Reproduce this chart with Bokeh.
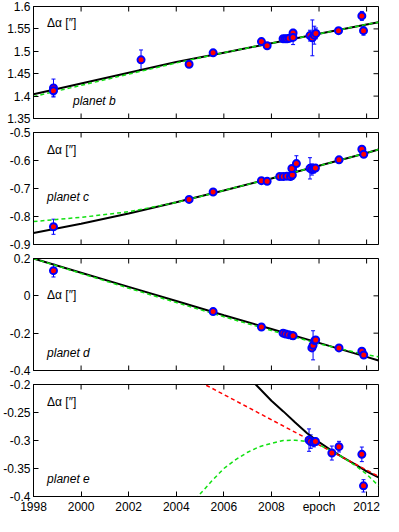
from math import pi
from bokeh.plotting import figure
from bokeh.models import (Range1d, FixedTicker, Label, Whisker,
                          ColumnDataSource, CustomJSTickFormatter, TeeHead)
from bokeh.layouts import column
from bokeh.embed import file_html
from bokeh.resources import INLINE

FONT = "Liberation Sans"

# ---------------- data ----------------
x_ticks = [1998, 2000, 2002, 2004, 2006, 2008, 2010, 2012]
x_label_overrides = {2010: "epoch"}
x_span = (1998, 2012.5)

# planet b
b_years = [1998.84, 1998.84, 2002.52, 2004.54, 2005.55, 2007.58, 2007.82, 2008.49, 2008.58,
           2008.66, 2008.75, 2008.91, 2008.91, 2009.62, 2009.72, 2009.80, 2009.87,
           2010.82, 2011.80, 2011.87]
b_dra = [1.418, 1.412, 1.481, 1.471, 1.4966, 1.5217, 1.5123, 1.528, 1.528,
         1.528, 1.529, 1.541, 1.531, 1.535, 1.530, 1.536, 1.540,
         1.546, 1.579, 1.546]
b_err = [0.02, 0.012, 0.022, 0.003, 0.003, 0.004, 0.004, 0.003, 0.003,
         0.003, 0.003, 0.008, 0.016, 0.012, 0.04, 0.02, 0.012,
         0.004, 0.01, 0.01]
b_model_years = [1998, 2000, 2002, 2004, 2006, 2008, 2010, 2012, 2012.5]
b_model_black = [1.404, 1.428, 1.452, 1.476, 1.497, 1.518, 1.539, 1.560, 1.565]
b_model_green = [1.399, 1.424, 1.449, 1.474, 1.497, 1.518, 1.539, 1.560, 1.565]
b_ticks = [1.35, 1.4, 1.45, 1.5, 1.55, 1.6]

# planet c
c_years = [1998.84, 2004.54, 2005.55, 2007.58, 2007.82, 2008.35, 2008.50, 2008.65, 2008.80,
           2008.88, 2008.86, 2009.05, 2009.62, 2009.70, 2009.78, 2009.85,
           2010.84, 2011.80, 2011.88]
c_dra = [-0.8366, -0.739, -0.7125, -0.672, -0.6745, -0.657, -0.657, -0.656, -0.657,
         -0.652, -0.6286, -0.611, -0.628, -0.632, -0.630, -0.627,
         -0.5976, -0.5597, -0.578]
c_err = [0.027, 0.004, 0.004, 0.004, 0.004, 0.004, 0.004, 0.004, 0.004,
         0.015, 0.008, 0.028, 0.038, 0.02, 0.015, 0.01,
         0.004, 0.006, 0.006]
c_model_years = [1998, 2000, 2002, 2004, 2006, 2008, 2010, 2012, 2012.5]
c_model_black = [-0.859, -0.826, -0.789, -0.749, -0.707, -0.664, -0.619, -0.573, -0.561]
c_model_green = [-0.818, -0.803, -0.783, -0.750, -0.707, -0.664, -0.619, -0.573, -0.561]
c_ticks = [-0.9, -0.8, -0.7, -0.6, -0.5]

# planet d
d_years = [1998.84, 2005.55, 2007.58, 2008.49, 2008.60, 2008.72, 2008.85, 2008.91,
           2009.70, 2009.75, 2009.82, 2009.86, 2010.84, 2011.80, 2011.88]
d_dra = [0.135, -0.0845, -0.167, -0.200, -0.205, -0.208, -0.212, -0.214,
         -0.279, -0.265, -0.240, -0.236, -0.279, -0.2965, -0.317]
d_err = [0.034, 0.005, 0.005, 0.005, 0.005, 0.005, 0.005, 0.005,
         0.01, 0.078, 0.01, 0.01, 0.005, 0.008, 0.008]
d_model_years = [1998, 2000, 2002, 2004, 2006, 2008, 2010, 2012, 2012.5]
d_model_black = [0.200, 0.124, 0.048, -0.028, -0.104, -0.178, -0.252, -0.327, -0.346]
d_model_green = [0.200, 0.120, 0.041, -0.036, -0.112, -0.186, -0.257, -0.316, -0.326]
d_ticks = [-0.4, -0.2, 0, 0.2]

# planet e
e_years = [2009.58, 2009.65, 2009.78, 2009.85, 2010.54, 2010.84, 2011.80, 2011.87]
e_dra = [-0.2993, -0.302, -0.3034, -0.3017, -0.3224, -0.311, -0.3247, -0.381]
e_err = [0.02, 0.012, 0.008, 0.006, 0.0125, 0.0095, 0.013, 0.011]
e_black_years = [2007.0, 2007.34, 2008, 2008.5, 2009, 2009.5, 2010, 2010.5, 2011, 2011.5, 2012, 2012.5]
e_model_black = [-0.184, -0.200, -0.229, -0.248, -0.268, -0.287, -0.303, -0.317, -0.330, -0.342, -0.355, -0.366]
e_red_years = [2005.0, 2012.5]
e_model_red = [-0.1955, -0.364]
e_green_years = [2004.8, 2005.5, 2006, 2006.5, 2007, 2007.5, 2008, 2008.5, 2009, 2009.5,
                 2010, 2010.5, 2011, 2011.5, 2012, 2012.5]
e_model_green = [-0.405, -0.372, -0.350, -0.334, -0.321, -0.311, -0.305, -0.300, -0.2995, -0.302,
                 -0.308, -0.318, -0.330, -0.344, -0.360, -0.381]
e_ticks = [-0.4, -0.35, -0.3, -0.25, -0.2]

GREEN = "#11e011"
BLUE = "#0000ff"
RED = "#ff0000"

yfmt_code = "return String(Math.round(tick*100)/100);"


def style_axis(ax, ticks):
    ax.ticker = FixedTicker(ticks=ticks)
    ax.major_tick_in = 5
    ax.major_tick_out = 0
    ax.minor_tick_line_color = None
    ax.major_tick_line_color = "black"
    ax.axis_line_color = "black"
    ax.major_label_text_font = FONT
    ax.major_label_text_color = "black"
    ax.major_label_text_font_size = "12px"
    ax.major_label_standoff = 3


def make_panel(yr, ticks, years, dra, err, lines, planet, dlabel_y, planet_x, planet_y,
               top_border, bottom_border, bottom_labels):
    p = figure(frame_width=345, frame_height=112,
               x_range=Range1d(*x_span), y_range=Range1d(*yr),
               output_backend="svg", toolbar_location=None,
               x_axis_location="below" if bottom_labels else None,
               min_border_left=31, min_border_right=6,
               min_border_top=top_border, min_border_bottom=bottom_border)
    p.grid.visible = False
    p.outline_line_color = "black"
    p.outline_line_width = 1
    p.outline_line_alpha = 1
    p.background_fill_color = "white"
    p.border_fill_color = "white"

    if bottom_labels:
        style_axis(p.xaxis[0], x_ticks)
        p.xaxis[0].major_label_overrides = x_label_overrides
    style_axis(p.yaxis[0], ticks)
    p.yaxis[0].formatter = CustomJSTickFormatter(code=yfmt_code)

    # inward tick marks on the unlabeled sides (half of each dash is clipped by the frame)
    n = len(x_ticks)
    p.scatter(x_ticks, [yr[1]] * n, marker="dash", angle=pi / 2, size=10,
              line_color="black", line_width=1)
    if not bottom_labels:
        p.scatter(x_ticks, [yr[0]] * n, marker="dash", angle=pi / 2, size=10,
                  line_color="black", line_width=1)
    p.scatter([x_span[1]] * len(ticks), ticks, marker="dash", size=10,
              line_color="black", line_width=1)

    for (lx, ly, color, dash, width) in lines:
        p.line(lx, ly, line_color=color, line_dash=dash, line_width=width)

    src = ColumnDataSource(dict(x=years, y=dra,
                                upper=[v + e for v, e in zip(dra, err)],
                                lower=[v - e for v, e in zip(dra, err)]))
    p.add_layout(Whisker(source=src, base="x", upper="upper", lower="lower",
                         line_color=BLUE, line_width=1,
                         upper_head=TeeHead(size=4, line_color=BLUE, line_width=1),
                         lower_head=TeeHead(size=4, line_color=BLUE, line_width=1)))
    p.scatter("x", "y", source=src, size=7, fill_color=RED, line_color=BLUE, line_width=2)

    p.add_layout(Label(x=1998.57, y=dlabel_y, text="Δα [″]", text_font=FONT,
                       text_font_size="12px", text_baseline="middle", text_align="left",
                       text_color="black"))
    p.add_layout(Label(x=planet_x, y=planet_y, text=planet, text_font=FONT,
                       text_font_size="12px", text_font_style="italic",
                       text_baseline="middle", text_align="left", text_color="black"))
    return p


p1 = make_panel((1.35, 1.6), b_ticks, b_years, b_dra, b_err,
                [(b_model_years, b_model_black, "black", "solid", 2),
                 (b_model_years, b_model_green, GREEN, "4 3", 1.5)],
                "planet b", 1.563, 1999.66, 1.389, 6, 7, False)
p2 = make_panel((-0.9, -0.5), c_ticks, c_years, c_dra, c_err,
                [(c_model_years, c_model_black, "black", "solid", 2),
                 (c_model_years, c_model_green, GREEN, "4 3", 1.5)],
                "planet c", -0.563, 1998.57, -0.7286, 7, 7, False)
p3 = make_panel((-0.4, 0.2), d_ticks, d_years, d_dra, d_err,
                [(d_model_years, d_model_black, "black", "solid", 2),
                 (d_model_years, d_model_green, GREEN, "4 3", 1.5)],
                "planet d", 0.007, 1998.57, -0.308, 7, 7, False)
p4 = make_panel((-0.4, -0.2), e_ticks, e_years, e_dra, e_err,
                [(e_black_years, e_model_black, "black", "solid", 2),
                 (e_red_years, e_model_red, RED, "4 3", 1.5),
                 (e_green_years, e_model_green, GREEN, "4 3", 1.5)],
                "planet e", -0.2316, 1998.57, -0.368, 7, 16, True)

layout = column(p1, p2, p3, p4, spacing=0)
open("out.html", "w").write(file_html(layout, INLINE))
